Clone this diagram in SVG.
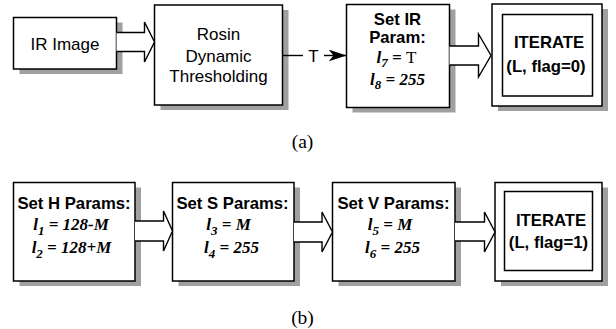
<svg xmlns="http://www.w3.org/2000/svg" width="616" height="329" viewBox="0 0 616 329">
  <style>
    .box { fill: #ffffff; stroke: #000000; stroke-width: 1.5; }
    .shadow { fill: #a0a0a0; stroke: none; }
    .harrow { fill: #ffffff; stroke: #000000; stroke-width: 1.4; stroke-linejoin: miter; }
    .line { fill: none; stroke: #000000; stroke-width: 1.4; }
    .sans { font-family: "Liberation Sans", Arial, sans-serif; font-size: 17px; text-anchor: middle; fill: #000; }
    .bold { font-weight: bold; font-size: 16.7px; }
    .eq { font-family: "Liberation Serif", "Times New Roman", serif; font-size: 17px; font-weight: bold; font-style: italic; text-anchor: middle; fill: #000; }
    .sub { font-size: 13px; }
    .up { font-style: normal; font-weight: normal; }
    .cap { font-family: "Liberation Serif", "Times New Roman", serif; font-size: 19.5px; text-anchor: middle; fill: #000; }
  </style>
  <defs>
    <marker id="head" viewBox="0 0 18 12" refX="18" refY="6" markerWidth="18" markerHeight="12" markerUnits="userSpaceOnUse" orient="auto">
      <path d="M0,0 L18,6 L0,12 L5,6 Z" fill="#000"/>
    </marker>
  </defs>

  <!-- (a) row -->
  <g id="ir-image">
    <rect class="shadow" x="19.5" y="22.5" width="103" height="51.5"/>
    <rect class="box" x="13.5" y="17.5" width="103" height="51.5"/>
    <text class="sans" x="65" y="49.5">IR Image</text>
  </g>
  <g id="rosin">
    <rect class="shadow" x="160.5" y="10" width="128" height="100"/>
    <rect class="box" x="154.5" y="5" width="128" height="100"/>
    <text class="sans" x="218.5" y="39.5">Rosin</text>
    <text class="sans" x="218.5" y="61.5">Dynamic</text>
    <text class="sans" x="218.5" y="81.5">Thresholding</text>
  </g>
  <g id="set-ir">
    <rect class="shadow" x="352.5" y="9.5" width="103" height="103"/>
    <rect class="box" x="346.5" y="4.5" width="103" height="103"/>
    <text class="sans bold" x="397.5" y="25">Set IR</text>
    <text class="sans bold" x="397.5" y="43">Param:</text>
    <text class="eq" x="396.5" y="63">l<tspan class="sub" dy="4">7</tspan><tspan dy="-4"> = </tspan><tspan class="up">T</tspan></text>
    <text class="eq" x="397.5" y="84.5">l<tspan class="sub" dy="4">8</tspan><tspan dy="-4"> = 255</tspan></text>
  </g>
  <g id="iterate-a">
    <rect class="shadow" x="498" y="9" width="110" height="102"/>
    <rect class="box" x="492" y="4" width="110" height="102"/>
    <rect class="box" x="502.5" y="14.5" width="90" height="81.5"/>
    <text class="sans bold" x="549" y="48">ITERATE</text>
    <text class="sans bold" x="546" y="71.5">(L, flag=0)</text>
  </g>

  <!-- (b) row -->
  <g id="set-h">
    <rect class="shadow" x="19.5" y="187.5" width="121.5" height="98.5"/>
    <rect class="box" x="13.5" y="182.5" width="121.5" height="98.5"/>
    <text class="sans bold" x="74" y="209">Set H Params:</text>
    <text class="eq" x="71" y="230">l<tspan class="sub" dy="4.5">1</tspan><tspan dy="-4.5"> = 128-M</tspan></text>
    <text class="eq" x="71.5" y="253">l<tspan class="sub" dy="4.5">2</tspan><tspan dy="-4.5"> = 128+M</tspan></text>
  </g>
  <g id="set-s">
    <rect class="shadow" x="178.5" y="187.5" width="121.5" height="98.5"/>
    <rect class="box" x="172.5" y="182.5" width="121.5" height="98.5"/>
    <text class="sans bold" x="232.5" y="209">Set S Params:</text>
    <text class="eq" x="228.5" y="230">l<tspan class="sub" dy="4.5">3</tspan><tspan dy="-4.5"> = M</tspan></text>
    <text class="eq" x="231.5" y="253">l<tspan class="sub" dy="4.5">4</tspan><tspan dy="-4.5"> = 255</tspan></text>
  </g>
  <g id="set-v">
    <rect class="shadow" x="338.5" y="187.5" width="122.5" height="98.5"/>
    <rect class="box" x="332.5" y="182.5" width="122.5" height="98.5"/>
    <text class="sans bold" x="393.5" y="209">Set V Params:</text>
    <text class="eq" x="390" y="230">l<tspan class="sub" dy="4.5">5</tspan><tspan dy="-4.5"> = M</tspan></text>
    <text class="eq" x="392.5" y="253">l<tspan class="sub" dy="4.5">6</tspan><tspan dy="-4.5"> = 255</tspan></text>
  </g>
  <g id="iterate-b">
    <rect class="shadow" x="501" y="187.5" width="107" height="98.5"/>
    <rect class="box" x="495" y="182.5" width="107" height="98.5"/>
    <rect class="box" x="504.5" y="191.5" width="88" height="79"/>
    <text class="sans bold" x="551" y="226">ITERATE</text>
    <text class="sans bold" x="548.5" y="248">(L, flag=1)</text>
  </g>

  <!-- connectors -->
  <g id="connectors">
    <path class="harrow" d="M116.5,32.5 H144.5 V22 L154.5,42 L144.5,62 V51.5 H116.5"/>
    <line class="line" x1="282.5" y1="55.5" x2="303" y2="55.5"/>
    <text class="sans" x="313.5" y="61.5">T</text>
    <line class="line" x1="324" y1="55.5" x2="346.5" y2="55.5" marker-end="url(#head)"/>
    <path class="harrow" d="M449.5,46 H478.5 V34 L491,55.5 L478.5,77 V65 H449.5"/>
    <path class="harrow" d="M135,221 H163.5 V211 L172.5,231 L163.5,251 V241 H135"/>
    <path class="harrow" d="M294,222 H322 V212 L332.5,232 L322,252 V242 H294"/>
    <path class="harrow" d="M455,222 H484.5 V212 L495,232 L484.5,252 V241 H455"/>
  </g>

  <!-- captions -->
  <text class="cap" x="302.5" y="148">(a)</text>
  <text class="cap" x="302.5" y="324">(b)</text>
</svg>
